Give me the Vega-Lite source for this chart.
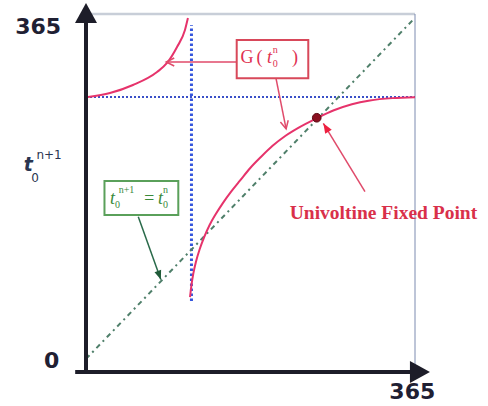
{
  "$schema": "https://vega.github.io/schema/vega-lite/v6.json",
  "width": 329,
  "height": 358,
  "autosize": {"type": "none"},
  "padding": {"left": 86, "top": 14, "right": 73, "bottom": 34},
  "background": "white",
  "config": {"view": {"stroke": null}},
  "datasets": {
    "left": [
      {"x": 2.2, "y": 280.2}, {"x": 26.6, "y": 284.4}, {"x": 52.1, "y": 293.0}, {"x": 78.8, "y": 306.9},
      {"x": 89.9, "y": 316.6}, {"x": 101.0, "y": 333.7}, {"x": 109.8, "y": 351.9}, {"x": 113.1, "y": 364.7}
    ],
    "right": [
      {"x": 115.4, "y": 66}, {"x": 117, "y": 79}, {"x": 119, "y": 91}, {"x": 122, "y": 104},
      {"x": 126, "y": 117}, {"x": 131, "y": 130}, {"x": 137, "y": 143}, {"x": 144, "y": 155},
      {"x": 152, "y": 167}, {"x": 161, "y": 179}, {"x": 171, "y": 191}, {"x": 182, "y": 204},
      {"x": 194, "y": 216}, {"x": 207, "y": 228}, {"x": 221, "y": 238.5}, {"x": 236, "y": 247.5},
      {"x": 256, "y": 257.5}, {"x": 275, "y": 266}, {"x": 295, "y": 272.5}, {"x": 315, "y": 276.5},
      {"x": 340, "y": 279}, {"x": 365, "y": 280}
    ],
    "diag": [{"x": 0, "y": 0}, {"x": 363, "y": 363}],
    "vguide": [{"x": 117, "y": 62, "y2": 357}],
    "hguide": [{"x": 0, "x2": 365, "y": 280.2}],
    "frameTop": [{"x": 0, "x2": 365, "y": 369}],
    "frameRight": [{"x": 365, "y": -14, "y2": 369}],
    "axisY": [{"x": 0, "y": -14, "y2": 362}],
    "axisX": [{"x": -12, "x2": 362, "y": -14}],
    "axisYTip": [{"x": 0, "y": 380.8}],
    "axisXTip": [{"x": 381.6, "y": -14}],
    "gbox": [{"x": 167.2, "x2": 246.6, "y": 300.2, "y2": 341.2}],
    "ebox": [{"x": 20.5, "x2": 102.4, "y": 154, "y2": 190.3}],
    "arrows": [
      {"id": "gleft", "x": 167.2, "y": 317.6, "x2": 89, "y2": 317.6},
      {"id": "gdown", "x": 210.8, "y": 300.2, "x2": 222, "y2": 246},
      {"id": "green", "x": 58, "y": 152.1, "x2": 83, "y2": 85},
      {"id": "red", "x": 309.5, "y": 178.9, "x2": 263.3, "y2": 252.1}
    ],
    "fixed": [{"x": 256, "y": 258}],
    "ticklabels": [
      {"x": -53, "y": 355, "label": "365"},
      {"x": -38, "y": -2, "label": "0"},
      {"x": 362, "y": -35.4, "label": "365"}
    ],
    "ylabMain": [{"x": -64, "y": 207, "label": "t"}],
    "ylabScripts": [{"x": -56.6, "y": 193.6, "label": "0"}, {"x": -41, "y": 218, "label": "n+1"}],
    "gMain": [{"x": 178.6, "y": 321.9, "label": "G"}, {"x": 192.5, "y": 321.9, "label": "("}, {"x": 232, "y": 321.9, "label": ")"}],
    "gT": [{"x": 203.5, "y": 321.9, "label": "t"}],
    "gScripts": [{"x": 210, "y": 315.5, "label": "0"}, {"x": 210, "y": 330.5, "label": "n"}],
    "eMain": [{"x": 29.4, "y": 171.1, "label": "t"}, {"x": 69.9, "y": 171.1, "label": "="}, {"x": 82.7, "y": 171.1, "label": "t"}],
    "eScripts": [
      {"x": 34.9, "y": 164.7, "label": "0"}, {"x": 44.9, "y": 180.7, "label": "n+1"},
      {"x": 88.2, "y": 164.7, "label": "0"}, {"x": 88.2, "y": 180.7, "label": "n"}
    ],
    "fixedLabel": [{"x": 330, "y": 156.6, "label": "Univoltine Fixed Point"}]
  },
  "encoding": {
    "x": {"field": "x", "type": "quantitative", "scale": {"domain": [0, 365], "nice": false, "zero": false}, "axis": null},
    "y": {"field": "y", "type": "quantitative", "scale": {"domain": [-14, 369], "nice": false, "zero": false}, "axis": null}
  },
  "layer": [
    {"data": {"name": "frameTop"}, "mark": {"type": "rule", "color": "#c8ced8", "strokeWidth": 2.5}, "encoding": {"x2": {"field": "x2"}}},
    {"data": {"name": "frameRight"}, "mark": {"type": "rule", "color": "#7d8bb0", "strokeWidth": 1}, "encoding": {"y2": {"field": "y2"}}},
    {"data": {"name": "hguide"}, "mark": {"type": "rule", "color": "#3a50c8", "strokeWidth": 2, "strokeDash": [2, 2]}, "encoding": {"x2": {"field": "x2"}}},
    {"data": {"name": "vguide"}, "mark": {"type": "rule", "color": "#3355dd", "strokeWidth": 3, "strokeDash": [2.5, 2.5]}, "encoding": {"y2": {"field": "y2"}}},
    {"data": {"name": "diag"}, "mark": {"type": "line", "color": "#4f7f6a", "strokeWidth": 2, "strokeDash": [5, 4, 2, 4]}},
    {"data": {"name": "left"}, "mark": {"type": "line", "color": "#e6336b", "strokeWidth": 2, "interpolate": "monotone"}},
    {"data": {"name": "right"}, "mark": {"type": "line", "color": "#e6336b", "strokeWidth": 2, "interpolate": "monotone"}},
    {"data": {"name": "axisY"}, "mark": {"type": "rule", "color": "#1d1d29", "strokeWidth": 4}, "encoding": {"y2": {"field": "y2"}}},
    {"data": {"name": "axisX"}, "mark": {"type": "rule", "color": "#1d1d29", "strokeWidth": 4}, "encoding": {"x2": {"field": "x2"}}},
    {"data": {"name": "axisYTip"}, "mark": {"type": "point", "shape": "M0,0L-1.1,2L1.1,2Z", "size": 400, "filled": true, "color": "#1d1d29", "opacity": 1, "angle": 0}},
    {"data": {"name": "axisXTip"}, "mark": {"type": "point", "shape": "M0,0L-1.1,2L1.1,2Z", "size": 400, "filled": true, "color": "#1d1d29", "opacity": 1, "angle": 90}},
    {"data": {"name": "arrows"}, "transform": [{"filter": "datum.id != 'green'"}], "mark": {"type": "rule", "color": "#e04a6a", "strokeWidth": 1.5}, "encoding": {"x2": {"field": "x2"}, "y2": {"field": "y2"}}},
    {"data": {"name": "arrows"}, "transform": [{"filter": "datum.id == 'green'"}], "mark": {"type": "rule", "color": "#2a6a4a", "strokeWidth": 1.5}, "encoding": {"x2": {"field": "x2"}, "y2": {"field": "y2"}}},
    {"data": {"name": "arrows"}, "transform": [{"filter": "datum.id == 'gleft'"}], "mark": {"type": "point", "shape": "M-0.8,1.6L0,0L0.8,1.6", "size": 100, "filled": false, "color": "#e04a6a", "strokeWidth": 1.5, "opacity": 1, "angle": 270}, "encoding": {"x": {"field": "x2", "type": "quantitative"}, "y": {"field": "y2", "type": "quantitative"}}},
    {"data": {"name": "arrows"}, "transform": [{"filter": "datum.id == 'gdown'"}], "mark": {"type": "point", "shape": "M-0.8,1.6L0,0L0.8,1.6", "size": 100, "filled": false, "color": "#e04a6a", "strokeWidth": 1.5, "opacity": 1, "angle": 167}, "encoding": {"x": {"field": "x2", "type": "quantitative"}, "y": {"field": "y2", "type": "quantitative"}}},
    {"data": {"name": "arrows"}, "transform": [{"filter": "datum.id == 'green'"}], "mark": {"type": "point", "shape": "M0,0L-0.7,1.8L0.7,1.8Z", "size": 100, "filled": true, "color": "#1f5a38", "opacity": 1, "angle": 160.6}, "encoding": {"x": {"field": "x2", "type": "quantitative"}, "y": {"field": "y2", "type": "quantitative"}}},
    {"data": {"name": "arrows"}, "transform": [{"filter": "datum.id == 'red'"}], "mark": {"type": "point", "shape": "M0,0L-0.7,1.8L0.7,1.8Z", "size": 120, "filled": true, "color": "#ee2040", "opacity": 1, "angle": 328.6}, "encoding": {"x": {"field": "x2", "type": "quantitative"}, "y": {"field": "y2", "type": "quantitative"}}},
    {"data": {"name": "fixed"}, "mark": {"type": "circle", "size": 75, "color": "#8a1020", "opacity": 1, "stroke": "#5a0810", "strokeWidth": 1}},
    {"data": {"name": "gbox"}, "mark": {"type": "rect", "fill": "white", "stroke": "#d8485a", "strokeWidth": 2}, "encoding": {"x2": {"field": "x2"}, "y2": {"field": "y2"}}},
    {"data": {"name": "ebox"}, "mark": {"type": "rect", "fill": "white", "stroke": "#5aa05a", "strokeWidth": 2}, "encoding": {"x2": {"field": "x2"}, "y2": {"field": "y2"}}},
    {"data": {"name": "ticklabels"}, "mark": {"type": "text", "font": "DejaVu Sans", "fontWeight": "bold", "fontSize": 22, "color": "#1f2033", "align": "center", "baseline": "middle"}, "encoding": {"text": {"field": "label"}}},
    {"data": {"name": "ylabMain"}, "mark": {"type": "text", "font": "DejaVu Sans", "fontStyle": "italic", "fontWeight": "bold", "fontSize": 19, "color": "#2a3550", "align": "center", "baseline": "middle"}, "encoding": {"text": {"field": "label"}}},
    {"data": {"name": "ylabScripts"}, "mark": {"type": "text", "font": "DejaVu Sans", "fontSize": 12, "color": "#2a3550", "align": "center", "baseline": "middle"}, "encoding": {"text": {"field": "label"}}},
    {"data": {"name": "gMain"}, "mark": {"type": "text", "font": "Liberation Serif", "fontSize": 18, "color": "#e03050", "align": "center", "baseline": "middle"}, "encoding": {"text": {"field": "label"}}},
    {"data": {"name": "gT"}, "mark": {"type": "text", "font": "Liberation Serif", "fontStyle": "italic", "fontSize": 18, "color": "#e03050", "align": "center", "baseline": "middle"}, "encoding": {"text": {"field": "label"}}},
    {"data": {"name": "gScripts"}, "mark": {"type": "text", "font": "Liberation Serif", "fontSize": 10, "color": "#e03050", "align": "center", "baseline": "middle"}, "encoding": {"text": {"field": "label"}}},
    {"data": {"name": "eMain"}, "mark": {"type": "text", "font": "Liberation Serif", "fontStyle": "italic", "fontSize": 18, "color": "#3a8a3a", "align": "center", "baseline": "middle"}, "encoding": {"text": {"field": "label"}}},
    {"data": {"name": "eScripts"}, "mark": {"type": "text", "font": "Liberation Serif", "fontSize": 10, "color": "#3a8a3a", "align": "center", "baseline": "middle"}, "encoding": {"text": {"field": "label"}}},
    {"data": {"name": "fixedLabel"}, "mark": {"type": "text", "font": "Liberation Serif", "fontWeight": "bold", "fontSize": 19.5, "color": "#d9304a", "align": "center", "baseline": "middle"}, "encoding": {"text": {"field": "label"}}}
  ]
}
